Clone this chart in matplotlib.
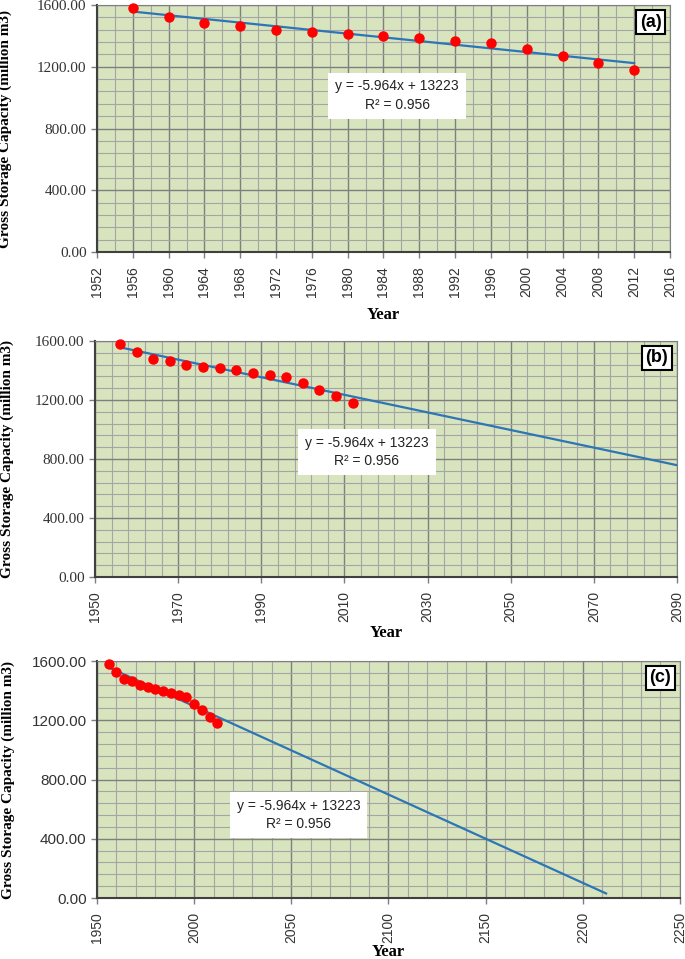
import numpy as np
import matplotlib
matplotlib.use("Agg")
import matplotlib.pyplot as plt
from matplotlib.ticker import MultipleLocator, FormatStrFormatter

# observed gross storage capacity (million m3)
years = [1956, 1960, 1964, 1968, 1972, 1976, 1980, 1984, 1988, 1992, 1996, 2000, 2004, 2008, 2012]
capacity = [1578, 1524, 1481, 1462, 1440, 1427, 1414, 1401, 1386, 1369, 1354, 1313, 1270, 1224, 1179]

# linear trend shown on the chart
slope = -5.964
intercept = 13223
r2 = 0.956

panel_names = ["(a)", "(b)", "(c)"]
x_limits = [(1952, 2016), (1950, 2090), (1950, 2250)]
x_major = [4, 20, 50]
x_minor = [2, 4, 10]
trend_end = [2012, 2090, 2212]

bg = "#d7e4bd"
serif = ["Liberation Serif", "DejaVu Serif"]
sans = ["Liberation Sans", "DejaVu Sans"]

fig = plt.figure(figsize=(6.85, 9.59), dpi=100)

# axes rectangles in figure fraction
rects = [
    [0.1416, 0.7372, 0.8365, 0.2576],
    [0.1387, 0.3983, 0.8496, 0.2461],
    [0.1416, 0.0636, 0.8510, 0.2471],
]
eq_pos = [(0.524, 0.633), (0.467, 0.53), (0.346, 0.35)]
ylab_x = [-0.148, -0.139, -0.141]
xlab_y = [-0.222, -0.203, -0.195]

for i in range(3):
    ax = fig.add_axes(rects[i])
    ax.set_facecolor(bg)
    lo, hi = x_limits[i]
    ax.set_xlim(lo, hi)
    ax.set_ylim(0, 1600)

    ax.set_xticks(np.arange(lo, hi + 1, x_major[i]))
    ax.set_xticks(np.arange(lo, hi + 1, x_minor[i]), minor=True)
    ax.yaxis.set_major_locator(MultipleLocator(400))
    ax.yaxis.set_minor_locator(MultipleLocator(80))
    ax.yaxis.set_major_formatter(FormatStrFormatter("%.2f"))

    ax.grid(which="major", color="#7f7f7f", lw=1.0)
    ax.grid(which="minor", color="#a5a5a5", lw=0.8)
    ax.set_axisbelow(True)

    ax.tick_params(which="minor", length=0)
    ax.tick_params(which="major", length=4, color="#7f7f7f", width=1)
    ax.tick_params(axis="x", labelrotation=90, labelsize=10, labelcolor="#333333", pad=6)
    ax.tick_params(axis="y", labelsize=11, labelcolor="#333333")
    ylab_font = serif if i < 2 else sans
    for t in ax.get_yticklabels():
        t.set_family(ylab_font)
    for t in ax.get_xticklabels():
        t.set_family(sans)

    for s in ["top", "right"]:
        ax.spines[s].set_color("#7f7f7f")
    for s in ["left", "bottom"]:
        ax.spines[s].set_color("#404040")
        ax.spines[s].set_linewidth(1.5)

    tx = np.array([years[0], trend_end[i]])
    ax.plot(tx, slope * tx + intercept, color="#2e75b6", lw=1.6, zorder=3)
    ax.plot(years, capacity, "o", color="red", ms=6.5, mec="red", zorder=4, clip_on=False)

    ax.text(eq_pos[i][0], eq_pos[i][1],
            "y = -5.964x + 13223\nR² = %.3f" % r2,
            transform=ax.transAxes, ha="center", va="center",
            fontsize=10, family=sans, color="#222222", linespacing=1.4,
            bbox=dict(facecolor="white", edgecolor="none", pad=5), zorder=5)

    ax.text(0.985, 0.965, panel_names[i], transform=ax.transAxes,
            ha="right", va="top", fontsize=13, fontweight="bold",
            family=sans,
            bbox=dict(facecolor="white", edgecolor="black", lw=1.5,
                      boxstyle="square,pad=0.2"), zorder=6)

    ax.set_ylabel("Gross Storage Capacity (million m3)", fontsize=11,
                  fontweight="bold", family=serif)
    ax.yaxis.set_label_coords(ylab_x[i], 0.5)
    ax.set_xlabel("Year", fontsize=12, fontweight="bold", family=serif)
    ax.xaxis.set_label_coords(0.5, xlab_y[i])

fig.savefig("out.png", dpi=100)
